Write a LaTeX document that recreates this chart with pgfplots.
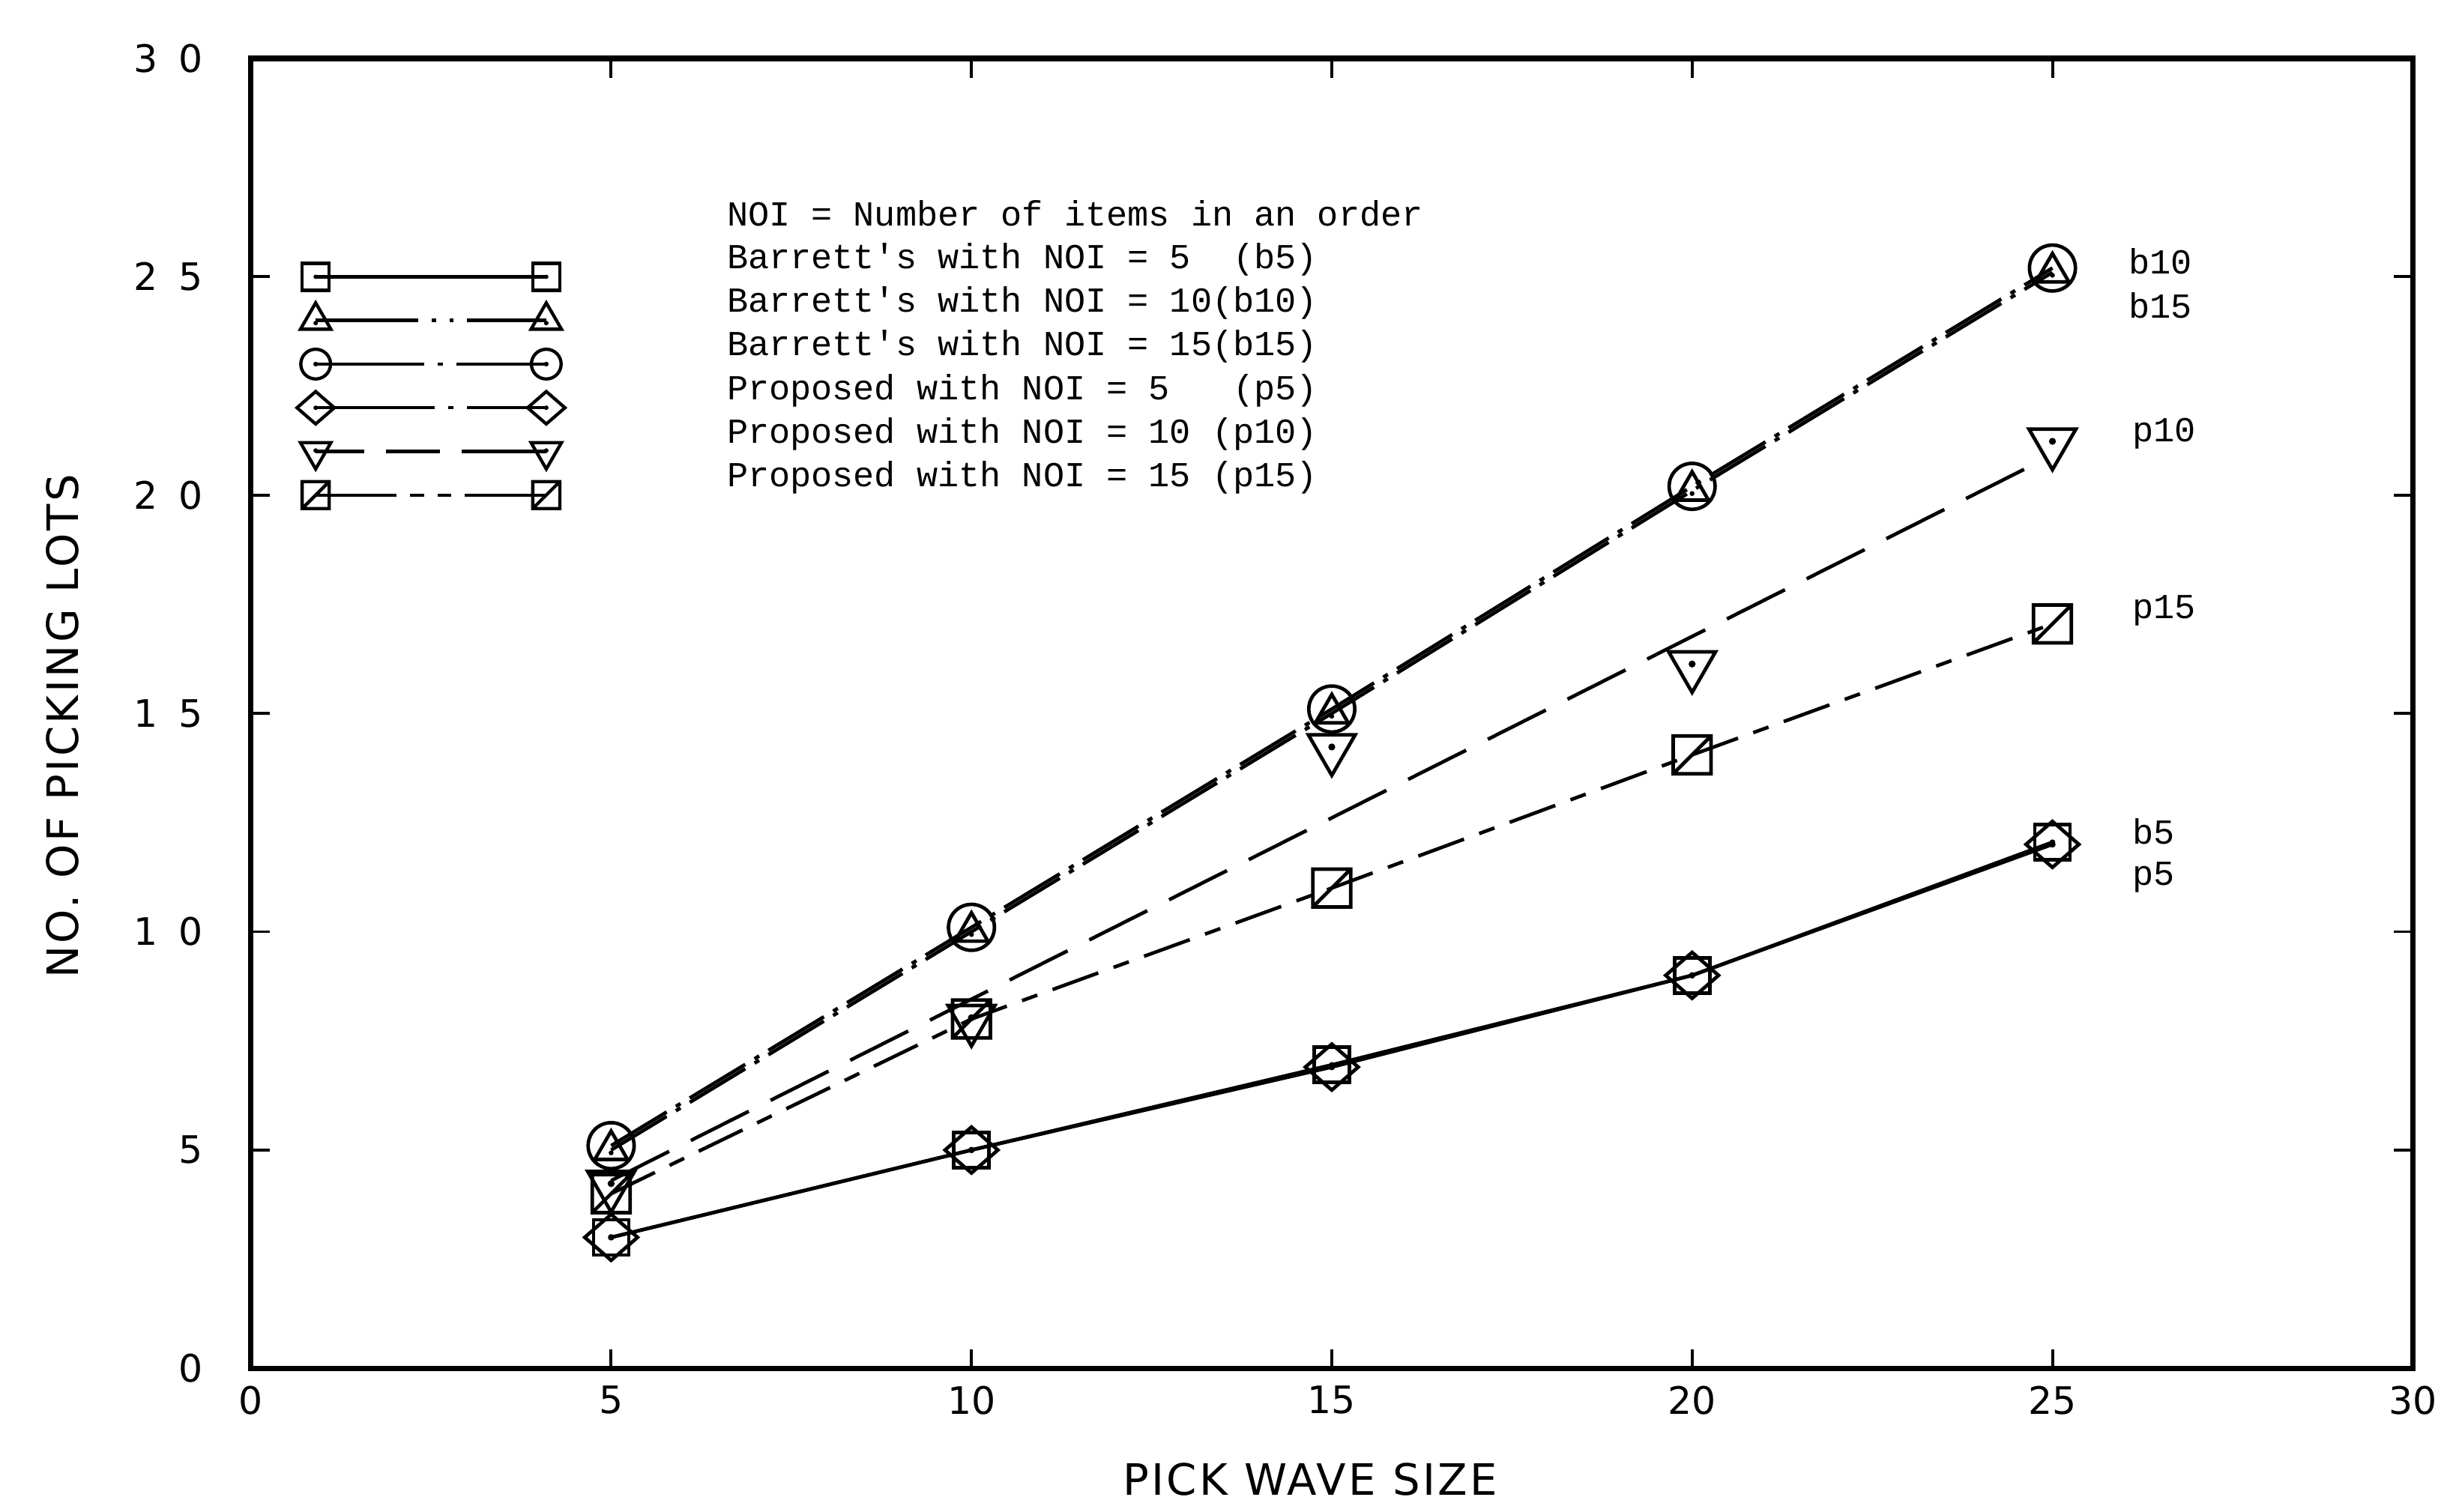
\documentclass[border=0pt]{standalone}
\usepackage{fontspec}
\usepackage{pgfplots}
\pgfplotsset{compat=1.18}
\setmainfont{Liberation Mono}
\newfontfamily\plotfont[LetterSpace=6]{DejaVu Sans}
\newfontfamily\tickfont[LetterSpace=55]{DejaVu Sans}
\newfontfamily\xtickfont{DejaVu Sans}
\newfontfamily\monofont{Liberation Mono}

% custom marks
\pgfdeclareplotmark{dsquare}{%
  \pgfpathrectangle{\pgfqpoint{-\pgfplotmarksize}{-\pgfplotmarksize}}{\pgfqpoint{2\pgfplotmarksize}{2\pgfplotmarksize}}%
  \pgfusepathqstroke
  \pgfpathcircle{\pgfpointorigin}{0.16\pgfplotmarksize}\pgfusepathqfill}
\pgfdeclareplotmark{ssquare}{%
  \pgfpathrectangle{\pgfqpoint{-\pgfplotmarksize}{-\pgfplotmarksize}}{\pgfqpoint{2\pgfplotmarksize}{2\pgfplotmarksize}}%
  \pgfpathmoveto{\pgfqpoint{-\pgfplotmarksize}{-\pgfplotmarksize}}%
  \pgfpathlineto{\pgfqpoint{\pgfplotmarksize}{\pgfplotmarksize}}%
  \pgfusepathqstroke}
\pgfdeclareplotmark{dtri}{%
  \pgfpathmoveto{\pgfqpointpolar{90}{\pgfplotmarksize}}%
  \pgfpathlineto{\pgfqpointpolar{210}{\pgfplotmarksize}}%
  \pgfpathlineto{\pgfqpointpolar{330}{\pgfplotmarksize}}%
  \pgfpathclose\pgfusepathqstroke
  \pgfpathcircle{\pgfqpoint{0pt}{-0.15\pgfplotmarksize}}{0.13\pgfplotmarksize}\pgfusepathqfill}
\pgfdeclareplotmark{dtridown}{%
  \pgfpathmoveto{\pgfqpointpolar{270}{\pgfplotmarksize}}%
  \pgfpathlineto{\pgfqpointpolar{30}{\pgfplotmarksize}}%
  \pgfpathlineto{\pgfqpointpolar{150}{\pgfplotmarksize}}%
  \pgfpathclose\pgfusepathqstroke
  \pgfpathcircle{\pgfqpoint{0pt}{0.05\pgfplotmarksize}}{0.13\pgfplotmarksize}\pgfusepathqfill}
\pgfdeclareplotmark{dcirc}{%
  \pgfpathcircle{\pgfpointorigin}{\pgfplotmarksize}\pgfusepathqstroke
  \pgfpathcircle{\pgfpointorigin}{0.16\pgfplotmarksize}\pgfusepathqfill}
\pgfdeclareplotmark{ddiam}{%
  \pgfpathmoveto{\pgfqpoint{0pt}{\pgfplotmarksize}}%
  \pgfpathlineto{\pgfqpoint{1.15\pgfplotmarksize}{0pt}}%
  \pgfpathlineto{\pgfqpoint{0pt}{-\pgfplotmarksize}}%
  \pgfpathlineto{\pgfqpoint{-1.15\pgfplotmarksize}{0pt}}%
  \pgfpathclose\pgfusepathqstroke
  \pgfpathcircle{\pgfpointorigin}{0.14\pgfplotmarksize}\pgfusepathqfill}
\pgfdeclareplotmark{bigcirc}{%
  \pgfpathcircle{\pgfpointorigin}{\pgfplotmarksize}\pgfusepathqstroke}

\begin{document}
\begin{tikzpicture}
\path[use as bounding box] (-3.26cm,-1.86cm) rectangle (28.74cm,17.79cm);
\begin{axis}[
  at={(0,0)}, anchor=origin,
  scale only axis,
  width=28.1cm, height=17.03cm,
  xmin=0, xmax=30, ymin=0, ymax=30,
  xtick={0,5,...,30}, ytick={0,5,...,30},
  tick align=inside,
  major tick length=0.25cm,
  axis line style={line width=2pt},
  every tick/.style={black, line width=1.1pt},
  /pgf/number format/assume math mode=true,
  yticklabel style={font=\tickfont\fontsize{14}{16}\selectfont, inner sep=0pt, xshift=-0.62cm},
  xticklabel style={font=\xtickfont\fontsize{14}{16}\selectfont, inner sep=0pt, yshift=-0.22cm},
  xlabel={PICK WAVE SIZE},
  ylabel={NO. OF PICKING LOTS},
  xlabel style={font=\plotfont\fontsize{16}{18}\selectfont, at={(axis description cs:0.49,-0.085)}, anchor=center},
  ylabel style={font=\plotfont\fontsize{16}{18}\selectfont, at={(axis description cs:-0.087,0.49)}, anchor=center, rotate=0},
  clip=false,
]
% ---- data ----
% b5 (square with dot), solid
\addplot[black, line width=1.3pt, solid, mark=dsquare, mark size=6.5pt, mark options={solid, line width=1.3pt, fill=black}]
  coordinates {(5,3.0) (10,5.0) (15,6.95) (20,9.0) (25,12.05)};
% p5 (diamond with dot), overlapping b5
\addplot[black, line width=1.3pt, solid, mark=ddiam, mark size=8.5pt, mark options={solid, line width=1.3pt, fill=black}]
  coordinates {(5,3.0) (10,5.0) (15,6.9) (20,9.0) (25,12.0)};
% b15 (circle)
\addplot[black, line width=1.3pt, dash pattern=on 24pt off 4pt on 2pt off 4pt, mark=bigcirc, mark size=8.5pt, mark options={solid, line width=1.3pt, fill=black}]
  coordinates {(5,5.1) (10,10.1) (15,15.1) (20,20.2) (25,25.2)};
% b10 (triangle with dot)
\addplot[black, line width=1.3pt, dash pattern=on 24pt off 4pt on 2pt off 4pt, mark=dtri, mark size=7pt, mark options={solid, line width=1.3pt, fill=black}]
  coordinates {(5,5.0) (10,10.0) (15,15.0) (20,20.1) (25,25.1)};
% p10 (down triangle with dot): marks
\addplot[black, only marks, mark=dtridown, mark size=10pt, mark options={solid, line width=1.3pt, fill=black}]
  coordinates {(5,4.2) (10,8.0) (15,14.2) (20,16.1) (25,21.2)};
% p10 line (straight, long dashes)
\addplot[black, line width=1.3pt, dash pattern=on 24pt off 9pt]
  coordinates {(5,4.3) (24.8,20.75)};
% p15 (square with slash), dash - short dash
\addplot[black, line width=1.3pt, dash pattern=on 18pt off 6pt on 6pt off 6pt, mark=ssquare, mark size=7pt, mark options={solid, line width=1.3pt}]
  coordinates {(5,4.0) (10,8.0) (15,11.0) (20,14.05) (25,17.05)};

% ---- legend samples ----
\addplot[black, line width=1.2pt, solid, mark=dsquare, mark size=5pt, mark options={solid, line width=1.2pt, fill=black}]
  coordinates {(0.9,25) (4.1,25)};
\addplot[black, line width=1.2pt, dash pattern=on 38pt off 5pt on 1.5pt off 5pt on 1.5pt off 5pt, mark=dtri, mark size=6.5pt, mark options={solid, line width=1.2pt, fill=black}]
  coordinates {(0.9,24) (4.1,24)};
\addplot[black, line width=1.2pt, dash pattern=on 40pt off 5pt on 2pt off 5pt, mark=dcirc, mark size=5.5pt, mark options={solid, line width=1.2pt, fill=black}]
  coordinates {(0.9,23) (4.1,23)};
\addplot[black, line width=1.2pt, dash pattern=on 44pt off 5pt on 2pt off 5pt, mark=ddiam, mark size=6pt, mark options={solid, line width=1.2pt, fill=black}]
  coordinates {(0.9,22) (4.1,22)};
\addplot[black, line width=1.2pt, dash pattern=on 18pt off 8pt on 20pt off 8pt on 40pt off 8pt, mark=dtridown, mark size=6.5pt, mark options={solid, line width=1.2pt, fill=black}]
  coordinates {(0.9,21) (4.1,21)};
\addplot[black, line width=1.2pt, dash pattern=on 30pt off 5pt on 5pt off 5pt on 5pt off 5pt on 40pt off 5pt, mark=ssquare, mark size=5pt, mark options={solid, line width=1.2pt}]
  coordinates {(0.9,20) (4.1,20)};

% ---- legend text ----
\begin{scope}[every node/.style={anchor=west, inner sep=0pt, font=\monofont\fontsize{13}{15}\selectfont}]
\node at (axis cs:6.6,26.45) {NOI = Number of items in an order};
\node at (axis cs:6.6,25.4) {Barrett's with NOI = 5~~(b5)};
\node at (axis cs:6.6,24.4) {Barrett's with NOI = 10(b10)};
\node at (axis cs:6.6,23.4) {Barrett's with NOI = 15(b15)};
\node at (axis cs:6.6,22.4) {Proposed with NOI = 5~~~(p5)};
\node at (axis cs:6.6,21.4) {Proposed with NOI = 10~(p10)};
\node at (axis cs:6.6,20.4) {Proposed with NOI = 15~(p15)};
\node at (axis cs:26.05,25.35) {b10};
\node at (axis cs:26.05,24.35) {b15};
\node at (axis cs:26.1,21.4) {p10};
\node at (axis cs:26.1,17.35) {p15};
\node at (axis cs:26.1,12.3) {b5};
\node at (axis cs:26.1,11.25) {p5};
\end{scope}
\end{axis}
\end{tikzpicture}
\end{document}
